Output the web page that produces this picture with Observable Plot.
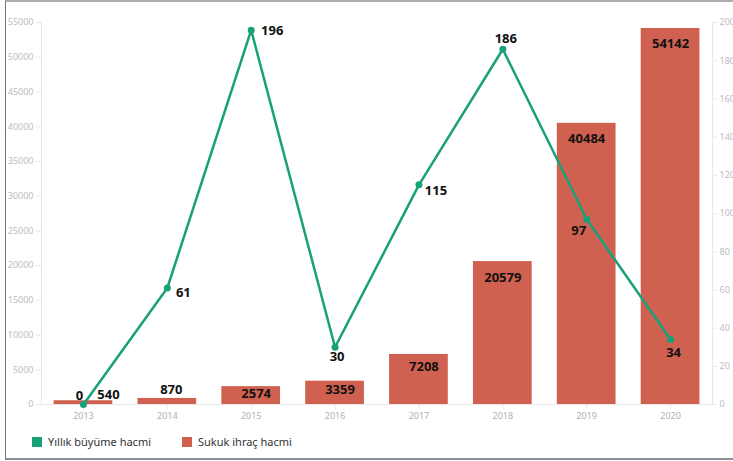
<!DOCTYPE html>
<html>
<head>
<meta charset="utf-8">
<script src="https://cdn.jsdelivr.net/npm/d3@7"></script>
<script src="https://cdn.jsdelivr.net/npm/@observablehq/plot@0.6"></script>
<style>
  html, body { margin: 0; padding: 0; background: #fff; }
  body { width: 733px; height: 461px; position: relative; overflow: hidden; font-family: "Noto Sans", sans-serif; }
  #border { position: absolute; left: 5px; top: 0; width: 760px; height: 456px;
            border-top: 2px solid #ababb1; border-left: 1px solid #72727c; border-bottom: 2px solid #8c8c96; }
  #chart { position: absolute; left: 0; top: 0; }
  #legend { position: absolute; left: 0; top: 431px; width: 733px; height: 22px; font-size: 11px; color: #333; }
  .item { position: absolute; top: 3px; display: flex; align-items: center; }
  .sw { width: 10px; height: 10px; margin-right: 6px; }
</style>
</head>
<body>
<div id="border"></div>
<div id="chart"></div>
<div id="legend"></div>
<script>
// ---- data ----
const years = ["2013", "2014", "2015", "2016", "2017", "2018", "2019", "2020"];
const sukukVolume = [540, 870, 2574, 3359, 7208, 20579, 40484, 54142];
const annualGrowth = [0, 61, 196, 30, 115, 186, 97, 34];
const leftTicks = [0, 5000, 10000, 15000, 20000, 25000, 30000, 35000, 40000, 45000, 50000, 55000];
const rightTicks = [0, 20, 40, 60, 80, 100, 120, 140, 160, 180, 200];
const seriesNames = ["Yıllık büyüme hacmi", "Sukuk ihraç hacmi"];

// ---- style ----
const GREEN = "#18a179";
const RED = "#d06150";
const LEFT_MAX = 55000, RIGHT_MAX = 200;
const k = LEFT_MAX / RIGHT_MAX; // map right-axis values onto left scale
const barLabelOff = [[25,-6],[4,-9],[5,7],[5,9],[5,12],[0,16],[0,16],[0,15]];
const lineLabelOff = [[-4,-9],[16,5],[21,1],[2,10],[17,6],[3,-10],[-8,12],[3,13]];

const rows = years.map((y, i) => ({year: y, sukuk: sukukVolume[i], growth: annualGrowth[i], g: annualGrowth[i] * k}));

const labelFont = {fontSize: 13, fontWeight: "bold", fill: "#111", fontFamily: "Noto Sans"};

const marks = [
  Plot.barY(rows, {x: "year", y: "sukuk", fill: RED}),
  Plot.frame({anchor: "left", stroke: "#e8e8e8"}),
  Plot.frame({anchor: "right", stroke: "#e8e8e8"}),
  Plot.frame({anchor: "bottom", stroke: "#e8e8e8"}),
  Plot.axisY({ticks: leftTicks, tickFormat: d => String(d), tickSize: 5, tickPadding: 3, stroke: "#e8e8e8", fill: "#bdbdbd", fontSize: 9, label: null}),
  Plot.axisY({anchor: "right", ticks: rightTicks.map(v => v * k), tickFormat: d => String(Math.round(d / k)), tickSize: 4, tickPadding: 3, stroke: "#e8e8e8", fill: "#bdbdbd", fontSize: 9, label: null}),
  Plot.axisX({tickSize: 5, tickPadding: 3, stroke: "#e8e8e8", fill: "#b0b0b0", fontSize: 9, label: null}),
  Plot.lineY(rows, {x: "year", y: "g", stroke: GREEN, strokeWidth: 2.5}),
  Plot.dot(rows, {x: "year", y: "g", fill: GREEN, r: 3.5}),
];
rows.forEach((d, i) => {
  marks.push(Plot.text([d], {x: "year", y: "sukuk", text: d => String(d.sukuk), dx: barLabelOff[i][0], dy: barLabelOff[i][1], ...labelFont}));
  marks.push(Plot.text([d], {x: "year", y: "g", text: d => String(d.growth), dx: lineLabelOff[i][0], dy: lineLabelOff[i][1], ...labelFont}));
});

const chart = Plot.plot({
  width: 733,
  height: 425,
  marginLeft: 41,
  marginRight: 21,
  marginTop: 22,
  marginBottom: 21,
  style: {fontFamily: "Noto Sans", background: "transparent"},
  x: {domain: years, paddingInner: 0.3, paddingOuter: 0.15, round: false, axis: null},
  y: {domain: [0, LEFT_MAX], axis: null},
  marks
});
document.getElementById("chart").appendChild(chart);

const legend = document.getElementById("legend");
[[seriesNames[0], GREEN, 32], [seriesNames[1], RED, 182]].forEach(([name, color, left]) => {
  const it = document.createElement("div");
  it.className = "item";
  it.style.left = left + "px";
  it.innerHTML = `<span class="sw" style="background:${color}"></span><span>${name}</span>`;
  legend.appendChild(it);
});
</script>
</body>
</html>
